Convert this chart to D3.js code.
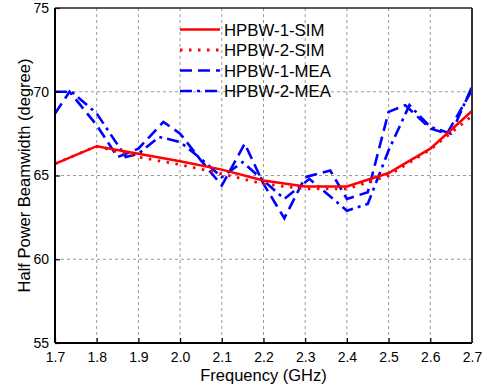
<!DOCTYPE html>
<html>
<head>
<meta charset="utf-8">
<script src="https://cdn.jsdelivr.net/npm/d3@7/dist/d3.min.js"></script>
<style>
  html, body { margin: 0; padding: 0; background: #fff; }
  svg { display: block; font-family: "Liberation Sans", Arial, sans-serif; }
</style>
</head>
<body>
<svg id="chart" width="487" height="390"></svg>
<script>
// Simulated beamwidth, sampled every 0.1 GHz
const simFreq = [1.7, 1.8, 1.9, 2.0, 2.1, 2.2, 2.3, 2.4, 2.5, 2.6, 2.7];
const hpbw1Sim = [65.7, 66.75, 66.3, 65.85, 65.35, 64.7, 64.35, 64.35, 65.15, 66.6, 68.85];
const hpbw2Sim = [65.7, 66.75, 66.1, 65.65, 65.1, 64.5, 64.2, 64.2, 65.0, 66.55, 68.55];

// Measured beamwidth
const mea1Freq = [1.7, 1.735, 1.8, 1.85, 1.9, 1.96, 2.0, 2.05, 2.1, 2.155, 2.2, 2.25, 2.3, 2.36, 2.4, 2.45, 2.5, 2.54, 2.6, 2.64, 2.7];
const hpbw1Mea = [68.7, 70.0, 68.0, 66.1, 66.6, 68.2, 67.5, 65.9, 64.4, 66.9, 64.5, 62.45, 64.9, 65.3, 63.6, 64.0, 68.8, 69.2, 67.8, 67.5, 70.1];
const mea2Freq = [1.7, 1.74, 1.8, 1.87, 1.9, 1.95, 2.0, 2.05, 2.1, 2.15, 2.2, 2.25, 2.31, 2.4, 2.45, 2.5, 2.55, 2.6, 2.65, 2.7];
const hpbw2Mea = [70.0, 70.0, 68.7, 66.1, 66.3, 67.3, 67.0, 66.0, 64.9, 65.8, 64.7, 63.6, 64.8, 62.9, 63.3, 66.5, 69.2, 67.9, 67.5, 70.3];

const xTicks = [1.7, 1.8, 1.9, 2.0, 2.1, 2.2, 2.3, 2.4, 2.5, 2.6, 2.7];
const yTicks = [55, 60, 65, 70, 75];

const seriesNames = ["HPBW-1-SIM", "HPBW-2-SIM", "HPBW-1-MEA", "HPBW-2-MEA"];
const seriesColors = ["#ff0000", "#ff0000", "#0000ff", "#0000ff"];
const seriesDash = [null, "2.5,6.5", "12,6", "12,5,3,5"];
const seriesWidth = [2.5, 2.8, 2.6, 2.6];

const svg = d3.select("#chart");
const L = 55, R = 472, T = 8, B = 343;

const x = d3.scaleLinear().domain([1.7, 2.7]).range([L, R]);
const y = d3.scaleLinear().domain([55, 75]).range([B, T]);

// grid
const grid = svg.append("g").attr("stroke", "#9a9a9a").attr("stroke-width", 1)
  .attr("stroke-dasharray", "3,3");
grid.selectAll("line.gx").data(xTicks.slice(1, -1)).enter().append("line")
  .attr("x1", d => x(d)).attr("x2", d => x(d)).attr("y1", T).attr("y2", B);
grid.selectAll("line.gy").data(yTicks.slice(1, -1)).enter().append("line")
  .attr("x1", L).attr("x2", R).attr("y1", d => y(d)).attr("y2", d => y(d));

// data lines
const line = d3.line().x(d => x(d[0])).y(d => y(d[1]));
const series = [
  d3.zip(simFreq, hpbw1Sim),
  d3.zip(simFreq, hpbw2Sim),
  d3.zip(mea1Freq, hpbw1Mea),
  d3.zip(mea2Freq, hpbw2Mea)
];
const plot = svg.append("g");
plot.append("clipPath").attr("id", "clip").append("rect")
  .attr("x", L).attr("y", T).attr("width", R - L).attr("height", B - T);
const drawOrder = [3, 2, 1, 0];
drawOrder.forEach(i => {
  plot.append("path")
    .attr("d", line(series[i]))
    .attr("fill", "none")
    .attr("stroke", seriesColors[i])
    .attr("stroke-width", seriesWidth[i])
    .attr("stroke-dasharray", seriesDash[i])
    .attr("clip-path", "url(#clip)");
});

// axes with inward ticks
const xAxis = d3.axisBottom(x).tickValues(xTicks).tickFormat(d3.format(".1f"))
  .tickSizeInner(-5).tickSizeOuter(0).tickPadding(9);
const gx = svg.append("g").attr("transform", `translate(0,${B})`).call(xAxis);
gx.select(".domain").remove();
gx.selectAll(".tick line").attr("stroke", "#000").attr("stroke-width", 1.2);
gx.selectAll("text").attr("font-size", 14).attr("fill", "#000")
  .attr("font-family", "Liberation Sans, Arial, sans-serif");

const yAxis = d3.axisLeft(y).tickValues(yTicks).tickFormat(d3.format("d"))
  .tickSizeInner(-5).tickSizeOuter(0).tickPadding(6);
const gy = svg.append("g").attr("transform", `translate(${L},0)`).call(yAxis);
gy.select(".domain").remove();
gy.selectAll(".tick line").attr("stroke", "#000").attr("stroke-width", 1.2);
gy.selectAll("text").attr("font-size", 14).attr("fill", "#000")
  .attr("font-family", "Liberation Sans, Arial, sans-serif");

// frame
svg.append("line").attr("x1", L).attr("x2", R).attr("y1", B).attr("y2", B)
  .attr("stroke", "#000").attr("stroke-width", 2);
svg.append("line").attr("x1", L).attr("x2", L).attr("y1", T).attr("y2", B)
  .attr("stroke", "#000").attr("stroke-width", 2);
svg.append("line").attr("x1", L).attr("x2", R).attr("y1", T).attr("y2", T)
  .attr("stroke", "#222").attr("stroke-width", 1.5);
svg.append("line").attr("x1", R).attr("x2", R).attr("y1", T).attr("y2", B)
  .attr("stroke", "#333").attr("stroke-width", 2);

// axis titles
svg.append("text").attr("x", (L + R) / 2).attr("y", 381)
  .attr("text-anchor", "middle").attr("font-size", 16.5).text("Frequency (GHz)");
svg.append("text")
  .attr("transform", `translate(30,${(T + B) / 2}) rotate(-90)`)
  .attr("text-anchor", "middle").attr("font-size", 16.5)
  .text("Half Power Beamwidth (degree)");

// legend
const legend = svg.append("g");
seriesNames.forEach((name, i) => {
  const ly = 29.5 + i * 20.5;
  legend.append("line").attr("x1", 180).attr("x2", 220).attr("y1", ly).attr("y2", ly)
    .attr("stroke", seriesColors[i]).attr("stroke-width", seriesWidth[i])
    .attr("stroke-dasharray", seriesDash[i]);
  legend.append("text").attr("x", 224).attr("y", ly + 6)
    .attr("font-size", 16.8).attr("fill", "#000").text(name);
});
</script>
</body>
</html>
